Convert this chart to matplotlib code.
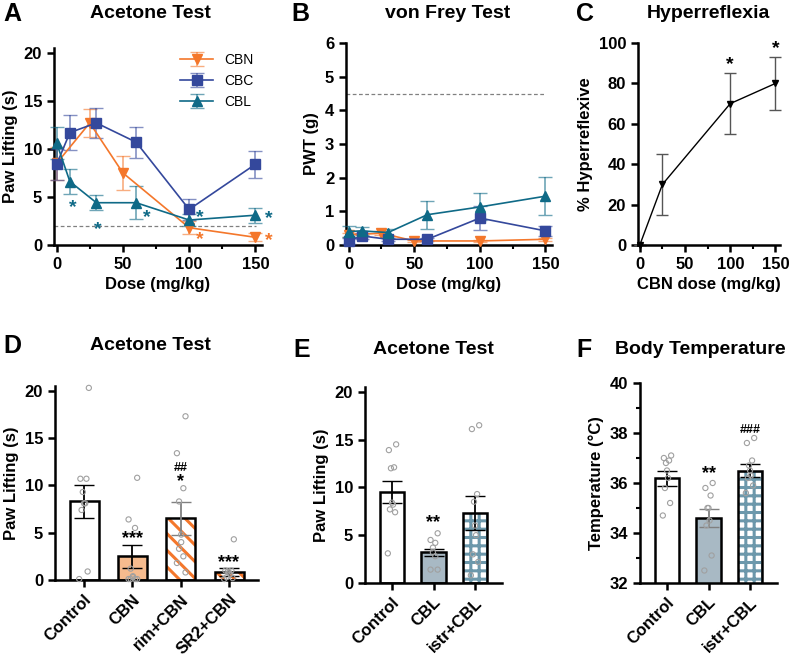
import matplotlib
matplotlib.use("Agg")
import matplotlib.pyplot as plt
import numpy as np

plt.rcParams['font.family'] = ['Liberation Sans', 'DejaVu Sans']
plt.rcParams['font.weight'] = 'bold'
plt.rcParams['axes.labelweight'] = 'bold'
plt.rcParams['hatch.linewidth'] = 2.2

C_CBN = '#F4772B'; C_CBC = '#34489C'; C_CBL = '#0F6A87'

# Panel A
a_cbn_x = [0, 25, 50, 100, 150]; a_cbn_y = [8.5, 12.7, 7.5, 1.8, 0.8]; a_cbn_e = [1.7, 1.5, 1.8, 0.7, 0.4]
a_cbc_x = [0, 10, 30, 60, 100, 150]; a_cbc_y = [8.4, 11.7, 12.7, 10.7, 3.7, 8.4]; a_cbc_e = [1.6, 1.8, 1.6, 1.6, 1.1, 1.4]
a_cbl_x = [0, 10, 30, 60, 100, 150]; a_cbl_y = [10.6, 6.6, 4.4, 4.4, 2.6, 3.1]; a_cbl_e = [1.7, 1.3, 0.8, 1.7, 0.6, 0.8]
# Panel B
b_cbn_y = [0.3, 0.35, 0.12, 0.12, 0.17]; b_cbn_e = [0.06, 0.06, 0.04, 0.04, 0.05]
b_cbc_y = [0.12, 0.27, 0.17, 0.17, 0.8, 0.42]; b_cbc_e = [0.1, 0.1, 0.05, 0.05, 0.35, 0.15]
b_cbl_y = [0.4, 0.42, 0.37, 0.9, 1.13, 1.45]; b_cbl_e = [0.15, 0.12, 0.1, 0.42, 0.4, 0.57]
# Panel C
c_x = [0, 25, 100, 150]; c_y = [0, 30, 70, 80]; c_e = [0, 15, 15, 13]
# Panel D
d_cats = ['Control', 'CBN', 'rim+CBN', 'SR2+CBN']
d_mean = [8.3, 2.5, 6.5, 0.85]; d_err = [1.75, 1.2, 1.75, 0.45]
d_pts = [[20.3, 10.7, 10.7, 9.3, 8.1, 8.1, 7.4, 0.9, 0.1],
         [10.8, 6.4, 5.5, 1.2, 0.4, 0.3, 0.1, 0.1, 0.1, 0.1],
         [17.3, 13.4, 9.7, 8.3, 4.8, 4.0, 3.3, 2.5, 1.8, 0.8],
         [4.3, 1.0, 1.0, 0.9, 0.8, 0.6, 0.3, 0.2, 0.1]]
# Panel E
e_cats = ['Control', 'CBL', 'istr+CBL']
e_mean = [9.5, 3.2, 7.3]; e_err = [1.15, 0.4, 1.75]
e_pts = [[14.5, 13.9, 12.1, 12.0, 8.4, 8.2, 7.7, 7.4, 3.1],
         [5.2, 4.5, 4.2, 3.7, 3.2, 2.8, 1.4, 1.4],
         [16.5, 16.1, 9.3, 8.5, 6.0, 5.0, 3.0, 2.2, 0.8]]
# Panel F
f_mean = [36.2, 34.6, 36.5]; f_err = [0.3, 0.35, 0.25]
f_pts = [[37.1, 37.0, 36.9, 36.8, 36.5, 36.2, 35.8, 35.2, 34.7],
         [36.0, 35.8, 35.5, 35.0, 35.0, 34.5, 34.3, 33.1, 32.5],
         [37.8, 37.6, 36.9, 36.7, 36.5, 36.3, 36.2, 35.9, 35.6]]

fig = plt.figure(figsize=(7.94, 6.56), dpi=100)
W, H = 794, 656
def ax_at(l, t, r, b):
    return fig.add_axes([l / W, 1 - b / H, (r - l) / W, (b - t) / H])

def style(ax):
    for s in ['top', 'right']:
        ax.spines[s].set_visible(False)
    for s in ['left', 'bottom']:
        ax.spines[s].set_linewidth(1.8)
    ax.tick_params(width=1.8, length=5, labelsize=12)
    ax.tick_params(which='minor', width=1.5, length=3)
    for lb in ax.get_xticklabels() + ax.get_yticklabels():
        lb.set_fontweight('bold')

def title(ax, letter, text, x_letter, y_px, x_title):
    fig.text(x_letter / W, 1 - y_px / H, letter, fontsize=18, fontweight='bold', va='center')
    fig.text(x_title / W, 1 - y_px / H, text, fontsize=14, fontweight='bold', va='center', ha='center')

def eb(ax, x, y, e, c, m, lab=None, ms=7.5):
    ax.errorbar(x, y, yerr=e, color=c, marker=m, ms=ms, lw=1.2, capsize=5, elinewidth=1.2,
                ecolor=matplotlib.colors.to_rgba(c, 0.6), label=lab, clip_on=False, zorder=3)

# A
ax = ax_at(54, 48, 262, 245)
eb(ax, a_cbn_x, a_cbn_y, a_cbn_e, C_CBN, 'v', 'CBN')
eb(ax, a_cbc_x, a_cbc_y, a_cbc_e, C_CBC, 's', 'CBC')
eb(ax, a_cbl_x, a_cbl_y, a_cbl_e, C_CBL, '^', 'CBL')
ax.axhline(2, xmin=0, xmax=0.97, color='grey', ls='--', lw=0.9, dashes=(3, 2))
ax.set_xlim(-2, 155); ax.set_ylim(0, 20.5)
ax.set_yticks([0, 5, 10, 15, 20]); ax.set_xticks([0, 50, 100, 150]); ax.set_xticks([25, 75, 125], minor=True)
ax.set_ylabel('Paw Lifting (s)', fontsize=12); ax.set_xlabel('Dose (mg/kg)', fontsize=12)
leg = ax.legend(loc='upper right', frameon=False, fontsize=10, handlelength=2.4, bbox_to_anchor=(1.02, 1.04))
for t in leg.get_texts(): t.set_fontweight('normal')
for (x, y, c) in [(12, 3.9, C_CBL), (31, 1.6, C_CBL), (68, 2.9, C_CBL), (108, 2.9, C_CBL), (160, 2.8, C_CBL),
                  (108, 0.6, C_CBN), (160, 0.5, C_CBN)]:
    ax.text(x, y, '*', color=c, fontsize=14, ha='center', va='center', clip_on=False)
style(ax)
title(ax, 'A', 'Acetone Test', 3, 14, 150)

# B
ax = ax_at(346, 43, 552, 245)
eb(ax, a_cbn_x, b_cbn_y, b_cbn_e, C_CBN, 'v', ms=6.5)
eb(ax, a_cbc_x, b_cbc_y, b_cbc_e, C_CBC, 's', ms=6.5)
eb(ax, a_cbl_x, b_cbl_y, b_cbl_e, C_CBL, '^', ms=6.5)
ax.axhline(4.5, xmin=0, xmax=0.97, color='grey', ls='--', lw=0.9, dashes=(3, 2))
ax.set_xlim(-2, 155); ax.set_ylim(0, 6)
ax.set_xticks([0, 50, 100, 150]); ax.set_xticks([25, 75, 125], minor=True)
ax.set_ylabel('PWT (g)', fontsize=12); ax.set_xlabel('Dose (mg/kg)', fontsize=12)
style(ax)
title(ax, 'B', 'von Frey Test', 291, 14, 448)

# C
ax = ax_at(638, 43, 780, 245)
ax.errorbar(c_x, c_y, yerr=c_e, color='black', marker='v', ms=5, lw=1, capsize=4, ecolor='#555555', clip_on=False)
ax.set_xlim(-2, 155); ax.set_ylim(0, 100)
ax.set_xticks([0, 50, 100, 150]); ax.set_xticks([25, 75, 125], minor=True)
ax.set_ylabel('% Hyperreflexive', fontsize=12); ax.set_xlabel('CBN dose (mg/kg)', fontsize=12)
ax.text(100, 87, '*', fontsize=14, ha='center'); ax.text(150, 95, '*', fontsize=14, ha='center', clip_on=False)
style(ax)
title(ax, 'C', 'Hyperreflexia', 576, 14, 708)

def bars(ax, means, errs, pts, faces, hatches, hcolors, ecs):
    x = np.arange(len(means))
    for i in x:
        ax.bar(i, means[i], width=0.6, color=faces[i], hatch=hatches[i], edgecolor=hcolors[i], lw=0, zorder=1)
        ax.bar(i, means[i], width=0.6, fill=False, edgecolor='black', lw=1.8, zorder=2)
        ax.errorbar(i, means[i], yerr=errs[i], color=ecs[i], capsize=7, lw=1.3, zorder=4)
        n = len(pts[i])
        xs = i + np.linspace(-0.2, 0.2, n) * (np.arange(n) % 2 * 2 - 1) * 0.5
        ax.scatter(xs, pts[i], s=14, facecolor='none', edgecolor='#A0A0A0', lw=0.8, zorder=5, clip_on=False)
    ax.set_xticks(x)

# D
ax = ax_at(55, 386, 258, 580)
bars(ax, d_mean, d_err, d_pts, ['white', '#F6BB8E', 'white', 'white'], [None, None, '\\\\', '\\\\\\'],
     ['black', 'black', C_CBN, C_CBN], ['black', 'black', 'grey', 'black'])
ax.set_xlim(-0.6, 3.6); ax.set_ylim(0, 20.5); ax.set_yticks([0, 5, 10, 15, 20])
ax.set_xticklabels(d_cats, rotation=45, ha='right', rotation_mode='anchor', fontsize=11)
ax.set_ylabel('Paw Lifting (s)', fontsize=12)
ax.text(1, 3.9, '***', ha='center', fontsize=13); ax.text(3, 1.4, '***', ha='center', fontsize=13)
ax.text(2, 9.9, '*', ha='center', fontsize=13); ax.text(2, 11.5, '##', ha='center', fontsize=9)
style(ax)
title(ax, 'D', 'Acetone Test', 3, 346, 150)

# E
ax = ax_at(365, 387, 502, 583)
bars(ax, e_mean, e_err, e_pts, ['white', '#A8B9C4', 'white'], [None, None, '++'],
     ['black', 'black', '#6C98AB'], ['black', 'black', 'black'])
ax.set_xlim(-0.65, 2.65); ax.set_ylim(0, 20.5); ax.set_yticks([0, 5, 10, 15, 20])
ax.set_xticklabels(e_cats, rotation=45, ha='right', rotation_mode='anchor', fontsize=11)
ax.set_ylabel('Paw Lifting (s)', fontsize=12)
ax.text(1, 5.8, '**', ha='center', fontsize=13)
style(ax)
title(ax, 'E', 'Acetone Test', 293, 350, 433)

# F
ax = ax_at(640, 383, 777, 583)
bars(ax, f_mean, f_err, f_pts, ['white', '#A8B9C4', 'white'], [None, None, '++'],
     ['black', 'black', '#6C98AB'], ['black', 'grey', 'black'])
ax.set_xlim(-0.65, 2.65); ax.set_ylim(32, 40); ax.set_yticks([32, 34, 36, 38, 40])
ax.set_yticks([33, 35, 37, 39], minor=True)
ax.set_xticklabels(e_cats, rotation=45, ha='right', rotation_mode='anchor', fontsize=11)
ax.set_ylabel('Temperature (°C)', fontsize=12)
ax.text(1, 36.2, '**', ha='center', fontsize=13); ax.text(2, 38.0, '###', ha='center', fontsize=9)
style(ax)
title(ax, 'F', 'Body Temperature', 576, 350, 700)

fig.savefig('out.png', dpi=100)
